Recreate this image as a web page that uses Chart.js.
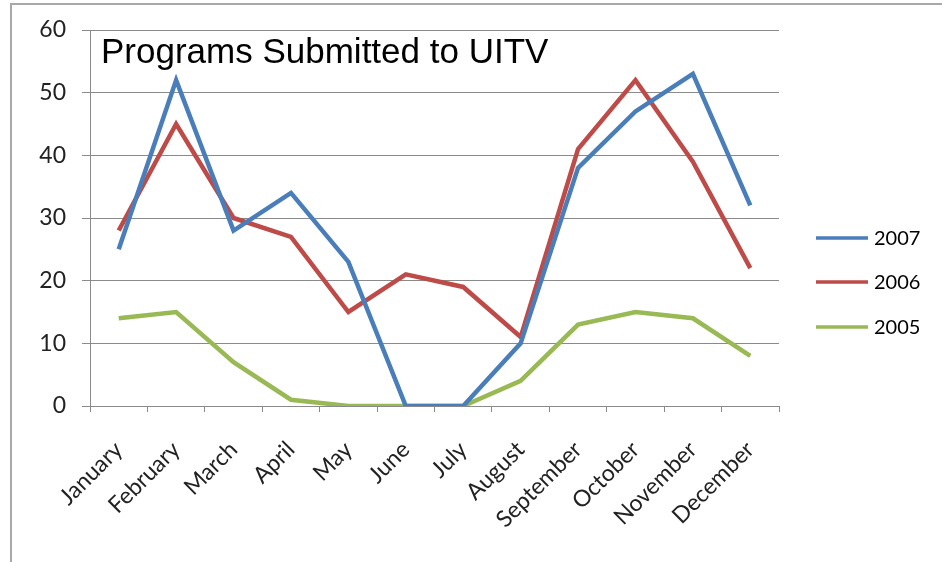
<!DOCTYPE html>
<html>
<head>
<meta charset="utf-8">
<script src="https://cdn.jsdelivr.net/npm/chart.js@4/dist/chart.umd.min.js"></script>
<style>
  html, body { margin: 0; padding: 0; background: #fff; }
  #wrap { position: relative; width: 942px; height: 562px; }
</style>
</head>
<body>
<div id="wrap"><canvas id="c" width="942" height="562"></canvas></div>
<script>
const months = ["January","February","March","April","May","June","July","August","September","October","November","December"];
const series2007 = [25, 52, 28, 34, 23, 0, 0, 10, 38, 47, 53, 32];
const series2006 = [28, 45, 30, 27, 15, 21, 19, 11, 41, 52, 39, 22];
const series2005 = [14, 15, 7, 1, 0, 0, 0, 4, 13, 15, 14, 8];
const seriesNames = ["2007", "2006", "2005"];
const yTicks = [0, 10, 20, 30, 40, 50, 60];
const chartTitle = "Programs Submitted to UITV";

const colors = ["#4A7EBB", "#BE4B48", "#98B954"];
const gridColor = "#8a8a8a";

const framePlugin = {
  id: 'frame',
  beforeDraw(chart) {
    const ctx = chart.ctx;
    ctx.save();
    ctx.fillStyle = '#fff';
    ctx.fillRect(0, 0, chart.width, chart.height);
    ctx.strokeStyle = '#a8a8a8';
    ctx.lineWidth = 2;
    ctx.beginPath();
    ctx.moveTo(11, chart.height);
    ctx.lineTo(11, 4);
    ctx.lineTo(chart.width, 4);
    ctx.stroke();
    ctx.restore();
  },
  afterDraw(chart) {
    const ctx = chart.ctx;
    ctx.save();
    // title inside plot
    ctx.fillStyle = '#000';
    ctx.font = '35px "Liberation Sans", Arial, sans-serif';
    ctx.textBaseline = 'alphabetic';
    ctx.textAlign = 'left';
    ctx.fillText(chartTitle, 101, 63);
    // legend
    const rows = [238, 282, 327];
    ctx.font = '20px Lato, sans-serif';
    ctx.textBaseline = 'middle';
    chart.data.datasets.forEach((ds, i) => {
      ctx.strokeStyle = ds.borderColor;
      ctx.lineWidth = 3.5;
      ctx.beginPath();
      ctx.moveTo(816, rows[i]);
      ctx.lineTo(868, rows[i]);
      ctx.stroke();
      ctx.fillStyle = '#000';
      ctx.fillText(ds.label, 874, rows[i] + 1);
    });
    ctx.restore();
  }
};

new Chart(document.getElementById('c'), {
  type: 'line',
  data: {
    labels: months,
    datasets: [
      { label: seriesNames[0], data: series2007, borderColor: colors[0], backgroundColor: colors[0] },
      { label: seriesNames[1], data: series2006, borderColor: colors[1], backgroundColor: colors[1] },
      { label: seriesNames[2], data: series2005, borderColor: colors[2], backgroundColor: colors[2] }
    ].map(d => Object.assign(d, { borderWidth: 4.5, pointRadius: 0, tension: 0, fill: false, borderJoinStyle: 'miter' }))
  },
  options: {
    responsive: false,
    animation: false,
    devicePixelRatio: 1,
    layout: { padding: { left: 0, top: 30, right: 163, bottom: 0 } },
    plugins: { legend: { display: false }, title: { display: false }, tooltip: { enabled: false } },
    scales: {
      x: {
        offset: true,
        grid: { display: true, drawOnChartArea: false, offset: true, tickLength: 6, color: gridColor },
        border: { display: true, color: gridColor, width: 1 },
        ticks: { minRotation: 45, maxRotation: 45, autoSkip: false, color: '#222', font: { family: 'Lato', size: 23 }, padding: 24 },
        afterFit(s) { s.height = 156; }
      },
      y: {
        min: 0, max: 60,
        afterBuildTicks(s) { s.ticks = yTicks.map(v => ({ value: v })); },
        grid: { color: gridColor, tickLength: 8, lineWidth: 1 },
        border: { display: true, color: gridColor, width: 1 },
        ticks: { color: '#222', font: { family: 'Lato', size: 23 }, padding: 16 },
        afterFit(s) { s.width = 90; }
      }
    }
  },
  plugins: [framePlugin]
});
</script>
</body>
</html>
